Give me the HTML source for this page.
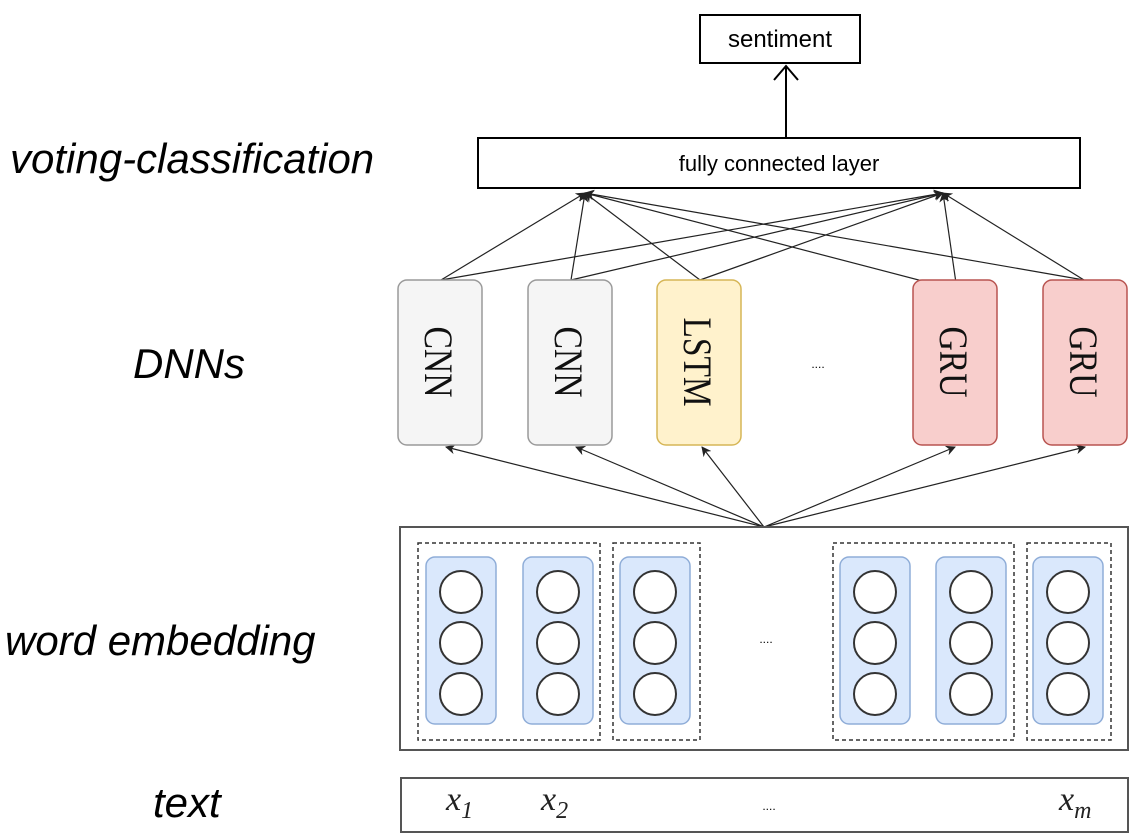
<!DOCTYPE html>
<html><head><meta charset="utf-8"><style>
body{margin:0;background:#fff;}
svg{display:block;}
.lab{font-family:"Liberation Sans",sans-serif;font-style:italic;font-size:42px;fill:#000;}
.ser{font-family:"Liberation Serif",serif;font-size:40px;fill:#111;}
</style></head><body>
<svg width="1143" height="840" viewBox="0 0 1143 840" xmlns="http://www.w3.org/2000/svg">
<defs>
<marker id="a" markerWidth="10" markerHeight="10" refX="9" refY="5" orient="auto" markerUnits="userSpaceOnUse"><path d="M0,0 L10,5 L0,10 L3,5 z" fill="#222"/></marker>
</defs>
<text class="lab" x="10" y="173">voting-classification</text>
<text class="lab" x="133" y="378">DNNs</text>
<text class="lab" x="5" y="655">word embedding</text>
<text class="lab" x="153" y="817">text</text>

<rect x="700" y="15" width="160" height="48" fill="#fff" stroke="#000" stroke-width="2"/>
<text x="780" y="47" text-anchor="middle" font-family="Liberation Sans,sans-serif" font-size="24">sentiment</text>
<line x1="786" y1="138" x2="786" y2="66" stroke="#000" stroke-width="2"/>
<path d="M774,80 L786,66 L798,80" fill="none" stroke="#000" stroke-width="2"/>
<rect x="478" y="138" width="602" height="50" fill="#fff" stroke="#000" stroke-width="2"/>
<text x="779" y="171" text-anchor="middle" font-family="Liberation Sans,sans-serif" font-size="22">fully connected layer</text>

<g stroke="#222" stroke-width="1.2" marker-end="url(#a)">
<line x1="441" y1="280" x2="585" y2="193"/><line x1="441" y1="280" x2="943" y2="193"/>
<line x1="571" y1="280" x2="585" y2="193"/><line x1="571" y1="280" x2="943" y2="193"/>
<line x1="700" y1="280" x2="585" y2="193"/><line x1="700" y1="280" x2="943" y2="193"/>
<line x1="957" y1="290" x2="585" y2="193"/><line x1="957" y1="290" x2="943" y2="193"/>
<line x1="1084" y1="280" x2="585" y2="193"/><line x1="1084" y1="280" x2="943" y2="193"/>
<line x1="764" y1="527" x2="446" y2="447"/><line x1="764" y1="527" x2="576" y2="447"/>
<line x1="764" y1="527" x2="702" y2="447"/><line x1="764" y1="527" x2="955" y2="447"/>
<line x1="764" y1="527" x2="1085" y2="447"/>
</g>

<g stroke-width="1.5">
<rect x="398" y="280" width="84" height="165" rx="9" fill="#f5f5f5" stroke="#9a9a9a"/>
<rect x="528" y="280" width="84" height="165" rx="9" fill="#f5f5f5" stroke="#9a9a9a"/>
<rect x="657" y="280" width="84" height="165" rx="9" fill="#fff2cc" stroke="#d6b656"/>
<rect x="913" y="280" width="84" height="165" rx="9" fill="#f8cecc" stroke="#b85450"/>
<rect x="1043" y="280" width="84" height="165" rx="9" fill="#f8cecc" stroke="#b85450"/>
</g>
<g class="ser" text-anchor="middle">
<text transform="translate(425,362) rotate(90)" textLength="71" lengthAdjust="spacingAndGlyphs">CNN</text>
<text transform="translate(555,362) rotate(90)" textLength="71" lengthAdjust="spacingAndGlyphs">CNN</text>
<text transform="translate(684,362) rotate(90)" textLength="89" lengthAdjust="spacingAndGlyphs">LSTM</text>
<text transform="translate(940,362) rotate(90)" textLength="71" lengthAdjust="spacingAndGlyphs">GRU</text>
<text transform="translate(1070,362) rotate(90)" textLength="71" lengthAdjust="spacingAndGlyphs">GRU</text>
</g>
<text x="818" y="368" font-family="Liberation Sans,sans-serif" font-size="12" text-anchor="middle">....</text>

<rect x="400" y="527" width="728" height="223" fill="#fff" stroke="#555" stroke-width="2"/>
<g fill="none" stroke="#333" stroke-width="1.5" stroke-dasharray="4,3">
<rect x="418" y="543" width="182" height="197"/>
<rect x="613" y="543" width="87" height="197"/>
<rect x="833" y="543" width="181" height="197"/>
<rect x="1027" y="543" width="84" height="197"/>
</g>
<g fill="#dae8fc" stroke="#8fadd8" stroke-width="1.5">
<rect x="426" y="557" width="70" height="167" rx="9"/>
<rect x="523" y="557" width="70" height="167" rx="9"/>
<rect x="620" y="557" width="70" height="167" rx="9"/>
<rect x="840" y="557" width="70" height="167" rx="9"/>
<rect x="936" y="557" width="70" height="167" rx="9"/>
<rect x="1033" y="557" width="70" height="167" rx="9"/>
</g>
<g fill="#fff" stroke="#333" stroke-width="2">
<circle cx="461" cy="592" r="21"/><circle cx="461" cy="643" r="21"/><circle cx="461" cy="694" r="21"/>
<circle cx="558" cy="592" r="21"/><circle cx="558" cy="643" r="21"/><circle cx="558" cy="694" r="21"/>
<circle cx="655" cy="592" r="21"/><circle cx="655" cy="643" r="21"/><circle cx="655" cy="694" r="21"/>
<circle cx="875" cy="592" r="21"/><circle cx="875" cy="643" r="21"/><circle cx="875" cy="694" r="21"/>
<circle cx="971" cy="592" r="21"/><circle cx="971" cy="643" r="21"/><circle cx="971" cy="694" r="21"/>
<circle cx="1068" cy="592" r="21"/><circle cx="1068" cy="643" r="21"/><circle cx="1068" cy="694" r="21"/>
</g>
<text x="766" y="643" font-family="Liberation Sans,sans-serif" font-size="12" text-anchor="middle">....</text>

<rect x="401" y="778" width="727" height="54" fill="#fff" stroke="#555" stroke-width="2"/>
<g font-family="Liberation Serif,serif" font-style="italic" font-size="34" fill="#222">
<text x="446" y="810">x<tspan font-size="24" dy="8">1</tspan></text>
<text x="541" y="810">x<tspan font-size="24" dy="8">2</tspan></text>
<text x="1059" y="810">x<tspan font-size="24" dy="8">m</tspan></text>
</g>
<text x="769" y="810" font-family="Liberation Sans,sans-serif" font-size="12" text-anchor="middle">....</text>
</svg>
</body></html>
